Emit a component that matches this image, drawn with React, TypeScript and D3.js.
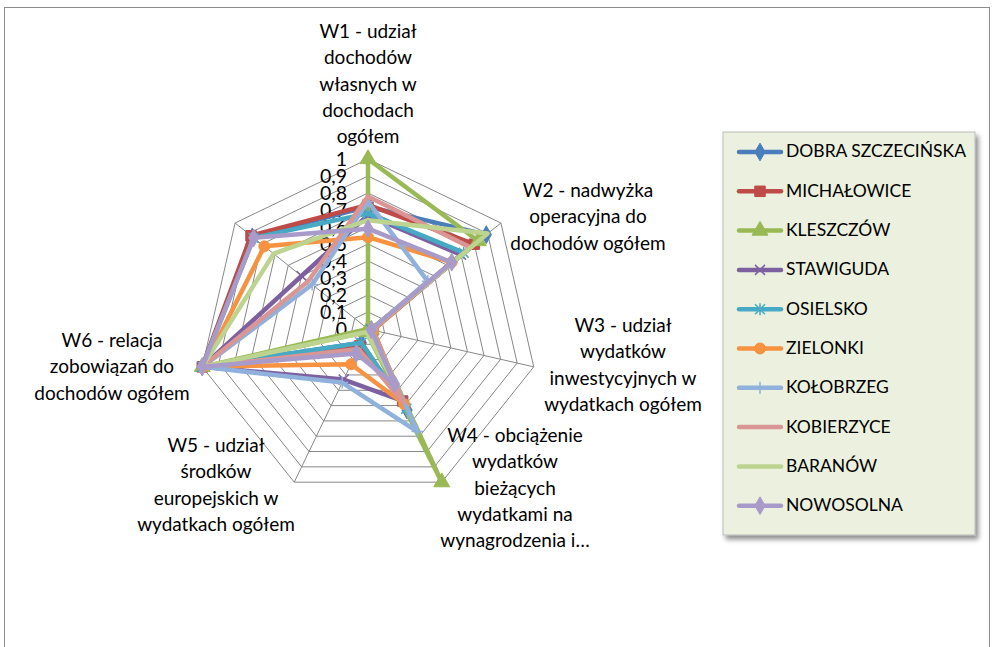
import React from "react";
import * as d3 from "d3";

const categories = [
  ["W1 - udział", "dochodów", "własnych w", "dochodach", "ogółem"],
  ["W2 - nadwyżka", "operacyjna do", "dochodów ogółem"],
  ["W3 - udział", "wydatków", "inwestycyjnych w", "wydatkach ogółem"],
  ["W4 - obciążenie", "wydatków", "bieżących", "wydatkami na", "wynagrodzenia i…"],
  ["W5 - udział", "środków", "europejskich w", "wydatkach ogółem"],
  ["W6 - relacja", "zobowiązań do", "dochodów ogółem"],
  [],
];

const ticks = [0, 0.1, 0.2, 0.3, 0.4, 0.5, 0.6, 0.7, 0.8, 0.9, 1];
const tickLabels = ["0", "0,1", "0,2", "0,3", "0,4", "0,5", "0,6", "0,7", "0,8", "0,9", "1"];

const seriesNames = [
  "DOBRA SZCZECIŃSKA",
  "MICHAŁOWICE",
  "KLESZCZÓW",
  "STAWIGUDA",
  "OSIELSKO",
  "ZIELONKI",
  "KOŁOBRZEG",
  "KOBIERZYCE",
  "BARANÓW",
  "NOWOSOLNA",
];

const dobra = [0.72, 0.89, 0.02, 0.53, 0.09, 1.0, 0.87];
const michalowice = [0.73, 0.8, 0.03, 0.47, 0.11, 1.0, 0.88];
const kleszczow = [1.0, 0.83, 0.02, 1.0, 0.02, 1.0, 0.0];
const stawiguda = [0.67, 0.7, 0.02, 0.47, 0.33, 1.0, 0.5];
const osielsko = [0.68, 0.72, 0.02, 0.52, 0.09, 1.0, 0.86];
const zielonki = [0.54, 0.63, 0.03, 0.49, 0.23, 0.99, 0.78];
const kolobrzeg = [0.75, 0.45, 0.02, 0.67, 0.35, 1.0, 0.42];
const kobierzyce = [0.78, 0.77, 0.02, 0.48, 0.13, 1.0, 0.45];
const baranow = [0.64, 0.9, 0.02, 0.33, 0.02, 1.0, 0.71];
const nowosolna = [0.59, 0.63, 0.02, 0.36, 0.16, 1.0, 0.86];

const seriesValues = [dobra, michalowice, kleszczow, stawiguda, osielsko, zielonki, kolobrzeg, kobierzyce, baranow, nowosolna];

const colors = ["#4A7EBB", "#BE4B48", "#98B954", "#7D60A0", "#46AAC5", "#F69240", "#8FB1DC", "#D99694", "#BCD48F", "#A99BC9"];
const markers = ["diamond", "square", "triangle", "x", "star", "circle", "plus", "none", "none", "diamond"];

// label layout: centre x, first line centre y
const labelPos = [
  [368, 33],
  [588, 192],
  [623, 327],
  [515, 437],
  [216, 447],
  [112, 342],
  [0, 0],
];

const W = 993;
const H = 647;
const cx = 368;
const cy = 329;
const R = 170;
const FONT = "Lato, 'Open Sans', sans-serif";

const Marker = ({type, x, y, color}: {type: string; x: number; y: number; color: string}) => {
  if (type === "none") return null;
  if (type === "x") {
    return <path d={`M${x - 5},${y - 5}L${x + 5},${y + 5}M${x - 5},${y + 5}L${x + 5},${y - 5}`} stroke={color} strokeWidth={1.5} fill="none"/>;
  }
  if (type === "star") {
    return <path d={`M${x - 5},${y - 5}L${x + 5},${y + 5}M${x - 5},${y + 5}L${x + 5},${y - 5}M${x},${y - 6}L${x},${y + 6}`} stroke={color} strokeWidth={1.5} fill="none"/>;
  }
  if (type === "plus") {
    return <path d={`M${x - 6},${y}L${x + 6},${y}M${x},${y - 6}L${x},${y + 6}`} stroke={color} strokeWidth={1.5} fill="none"/>;
  }
  const sym = {
    diamond: d3.symbol(d3.symbolDiamond, 90),
    square: d3.symbol(d3.symbolSquare, 110),
    triangle: d3.symbol(d3.symbolTriangle, 110),
    circle: d3.symbol(d3.symbolCircle, 95),
  }[type]!;
  return <path d={sym() || ""} transform={`translate(${x},${y})`} fill={color} stroke={color} strokeWidth={1}/>;
};

const App = () => {
  const n = categories.length;
  const angle = d3.scaleLinear().domain([0, n]).range([0, 2 * Math.PI]);
  const r = d3.scaleLinear().domain([0, 1]).range([0, R]);
  const point = (i: number, v: number): [number, number] => [
    cx + r(v) * Math.sin(angle(i)),
    cy - r(v) * Math.cos(angle(i)),
  ];
  const radial = d3
    .lineRadial<number>()
    .angle((_, i) => angle(i))
    .radius(d => r(d))
    .curve(d3.curveLinearClosed);

  const legendTop = 152;
  const legendStep = 39.3;

  return (
    <svg width={W} height={H} style={{position: "absolute", left: 0, top: 0}} fontFamily={FONT}>
      <defs>
        <filter id="shadow" x="-10%" y="-10%" width="130%" height="130%">
          <feDropShadow dx="3" dy="4" stdDeviation="2.5" floodColor="#000" floodOpacity="0.45"/>
        </filter>
      </defs>
      <rect x={0} y={0} width={W} height={H} fill="#fff"/>
      <rect x={4.5} y={7.5} width={985} height={700} fill="#fff" stroke="#8c8c8c" strokeWidth={1}/>

      {/* grid rings */}
      <g fill="none" stroke="#878787" strokeWidth={1}>
        {ticks.slice(1).map(t => (
          <path key={t} d={radial(d3.range(n).map(() => t)) || ""} transform={`translate(${cx},${cy})`}/>
        ))}
        {d3.range(n).map(i => {
          const [x, y] = point(i, 1);
          return <line key={i} x1={cx} y1={cy} x2={x} y2={y}/>;
        })}
      </g>

      {/* tick labels */}
      <g fontSize={19.5} fill="#000" textAnchor="end">
        {ticks.map((t, i) => (
          <text key={t} x={cx - 21} y={cy - r(t) + 2} dominantBaseline="middle">{tickLabels[i]}</text>
        ))}
      </g>

      {/* series */}
      {seriesValues.map((vals, s) => (
        <g key={s}>
          <path
            d={radial(vals) || ""}
            transform={`translate(${cx},${cy})`}
            fill="none"
            stroke={colors[s]}
            strokeWidth={4.5}
            strokeLinejoin="round"
          />
          {vals.map((v, i) => {
            const [x, y] = point(i, v);
            return <Marker key={i} type={markers[s]} x={x} y={y} color={colors[s]}/>;
          })}
        </g>
      ))}

      {/* category labels */}
      <g fontSize={19} fill="#000" textAnchor="middle">
        {categories.map((lines, i) => (
          <text key={i}>
            {lines.map((l, j) => (
              <tspan key={j} x={labelPos[i][0]} y={labelPos[i][1] + j * 26.4} dominantBaseline="middle">{l}</tspan>
            ))}
          </text>
        ))}
      </g>

      {/* legend */}
      <rect x={723} y={132} width={252} height={403} fill="#EBF1DE" stroke="#b0b0b0" strokeWidth={0.8} filter="url(#shadow)"/>
      {seriesNames.map((name, s) => {
        const y = legendTop + s * legendStep;
        return (
          <g key={name}>
            <line x1={739} x2={781} y1={y} y2={y} stroke={colors[s]} strokeWidth={4.5} strokeLinecap="round"/>
            <Marker type={markers[s]} x={760} y={y} color={colors[s]}/>
            <text x={786} y={y + 1} fontSize={17.5} dominantBaseline="middle" fill="#000">{name}</text>
          </g>
        );
      })}
    </svg>
  );
};

export default App;
